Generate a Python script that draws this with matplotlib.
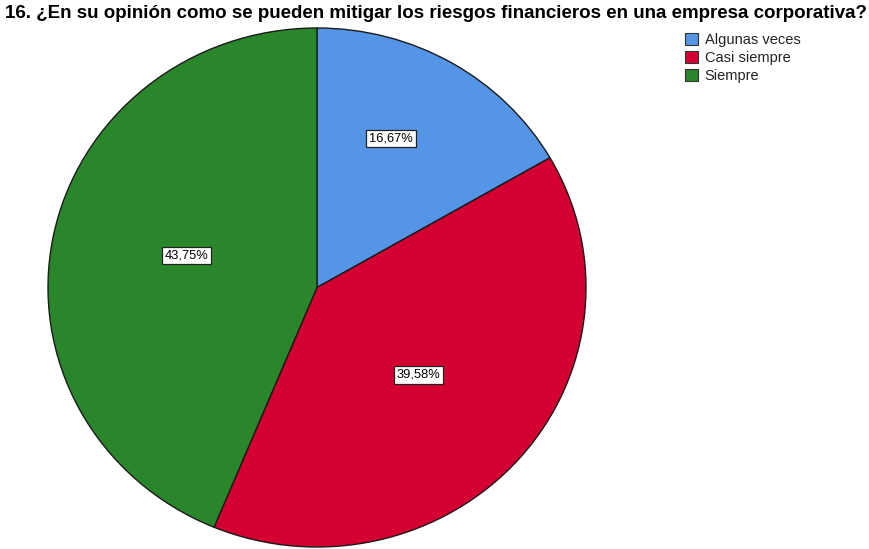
import numpy as np
import matplotlib.pyplot as plt
from matplotlib.patches import Patch

plt.rcParams['font.family'] = ['Liberation Sans', 'DejaVu Sans']

# data
categories = ['Algunas veces', 'Casi siempre', 'Siempre']
counts = [8, 19, 21]
pct_labels = ['16,67%', '39,58%', '43,75%']
colors = ['#5595E6', '#D50032', '#2A862A']
# label placement (radius, angle tweak in degrees) per slice
label_radius = [0.637, 0.506, 0.50]
label_turn = [4.4, -0.5, -3.0]

fig = plt.figure(figsize=(8.69, 5.49), dpi=100)
W, H = 869, 549
# pie is slightly elliptical in the original
ax = fig.add_axes([48 / W, (H - 547) / H, 538 / W, 519 / H])
wedges, _ = ax.pie(counts, colors=colors, startangle=90, counterclock=False,
                   wedgeprops=dict(edgecolor='#1a1a1a', linewidth=1.0))
ax.set_aspect('auto')
ax.set_xlim(-1, 1)
ax.set_ylim(-1, 1)
ax.axis('off')

for w, lab, r, t in zip(wedges, pct_labels, label_radius, label_turn):
    mid = np.deg2rad((w.theta1 + w.theta2) / 2 + t)
    ax.text(r * np.cos(mid), r * np.sin(mid), lab, ha='center', va='center', fontsize=9.3,
            bbox=dict(boxstyle='square,pad=0.22', fc='white', ec='#222222', lw=0.9))

fig.text(5 / W, 1 - 13 / H, '16. ¿En su opinión como se pueden mitigar los riesgos financieros en una empresa corporativa?',
         fontsize=13.5, fontweight='bold', ha='left', va='center')

handles = [Patch(facecolor=c, edgecolor='#333333', lw=0.8) for c in colors]
fig.legend(handles, categories, loc='upper left', bbox_to_anchor=(685 / W, 1 - 33 / H),
           frameon=False, fontsize=10.5, handlelength=0.9, handleheight=0.9,
           handletextpad=0.45, labelspacing=0.28, borderpad=0, borderaxespad=0,
           labelcolor='#222222')

fig.savefig('out.png', dpi=100)
